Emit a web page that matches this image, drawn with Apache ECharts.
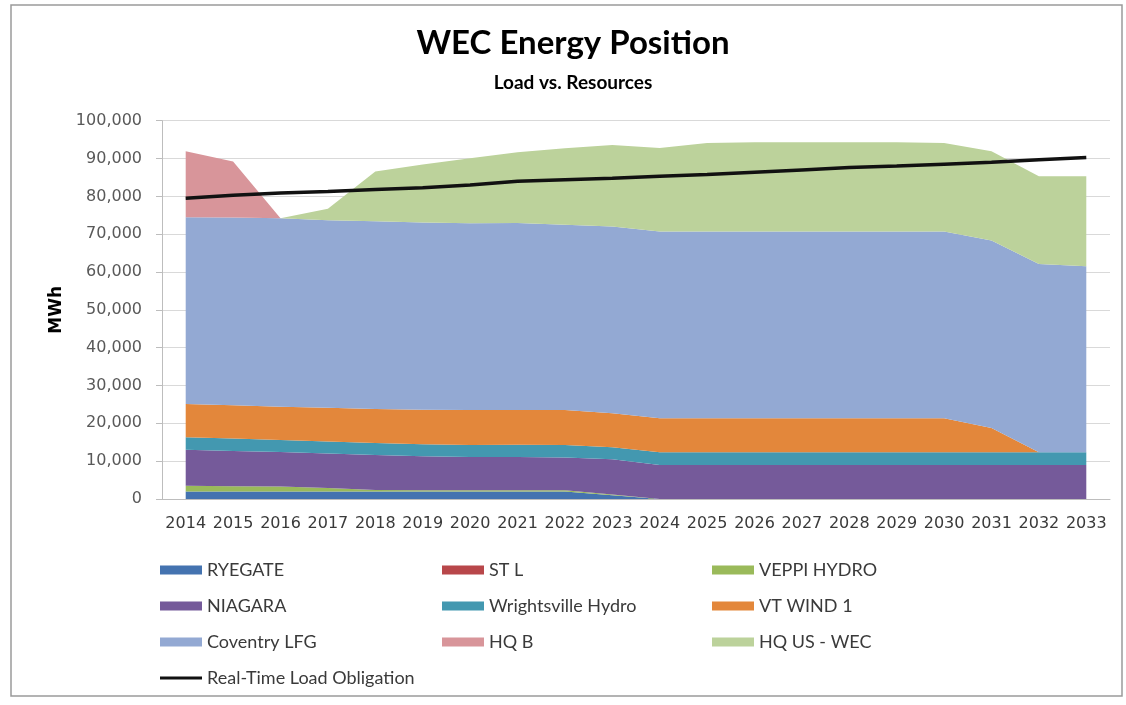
<!DOCTYPE html>
<html>
<head>
<meta charset="utf-8">
<script src="https://cdn.jsdelivr.net/npm/echarts@6/dist/echarts.min.js"></script>
<style>html,body{margin:0;padding:0;background:#fff}#c{width:1126px;height:705px}</style>
</head>
<body>
<div id="c"></div>
<script>
const years = ['2014','2015','2016','2017','2018','2019','2020','2021','2022','2023','2024','2025','2026','2027','2028','2029','2030','2031','2032','2033'];
const ryegate  = [2000,2000,2000,2000,2000,2000,2000,2000,2000,1000,0,0,0,0,0,0,0,0,0,0];
const stL      = [0,0,0,0,0,0,0,0,0,0,0,0,0,0,0,0,0,0,0,0];
const veppi    = [1500,1400,1300,900,400,300,300,300,300,200,0,0,0,0,0,0,0,0,0,0];
const niagara  = [9500,9300,9100,9100,9200,9000,8800,8800,8700,9300,9000,9000,9000,9000,9000,9000,9000,9000,9000,9000];
const wright   = [3300,3300,3200,3200,3200,3200,3200,3250,3300,3200,3350,3350,3350,3350,3350,3350,3350,3350,3350,3350];
const vtWind   = [8800,8800,8800,8900,9000,9100,9200,9200,9200,9000,9000,9000,9000,9000,9000,9000,9000,6450,0,0];
const coventry = [49400,49600,49800,49600,49600,49500,49400,49400,49000,49300,49350,49350,49350,49350,49350,49350,49350,49500,49750,49150];
const hqB      = [17400,14800,0,0,0,0,0,0,0,0,0,0,0,0,0,0,0,0,0,0];
const hqUS     = [0,0,0,3000,13200,15300,17200,18700,20200,21600,22100,23400,23600,23600,23600,23600,23400,23600,23200,23800];
const loadObl  = [79500,80300,80900,81300,81800,82300,83000,84000,84400,84800,85300,85800,86400,87000,87600,88000,88500,89000,89700,90300];

const areaDefs = [
  ['RYEGATE', ryegate, '#4473b0'],
  ['ST L', stL, '#b8474a'],
  ['VEPPI HYDRO', veppi, '#9aba5a'],
  ['NIAGARA', niagara, '#755a9a'],
  ['Wrightsville Hydro', wright, '#4398b0'],
  ['VT WIND 1', vtWind, '#e3873b'],
  ['Coventry LFG', coventry, '#93a9d3'],
  ['HQ B', hqB, '#d8959a'],
  ['HQ US - WEC', hqUS, '#bcd29b']
];

const series = areaDefs.map(d => ({
  name: d[0], type: 'line', stack: 'total', data: d[1], color: d[2],
  symbol: 'none', lineStyle: {width: 0}, areaStyle: {color: d[2], opacity: 1},
  itemStyle: {color: d[2]}
}));
series.push({
  name: 'Real-Time Load Obligation', type: 'line', data: loadObl, color: '#111',
  symbol: 'none', lineStyle: {width: 3.5, color: '#111'}, z: 5
});

const legendText = {fontFamily: 'Lato', fontSize: 18, color: '#3a3a3a', lineHeight: 20};
const lineIcon = 'path://M0,0 L42,0 L42,3.2 L0,3.2 Z';
function mkLegend(left, names) {
  return {
    orient: 'vertical', left: left, top: 560, padding: 0, itemGap: 16,
    itemWidth: 42, itemHeight: 9, icon: 'rect', textStyle: legendText,
    data: names.map(n => n === 'Real-Time Load Obligation' ? {name: n, icon: lineIcon} : {name: n}),
    selectedMode: false
  };
}

const chart = echarts.init(document.getElementById('c'), null, {renderer: 'canvas'});
chart.setOption({
  backgroundColor: '#fff',
  animation: false,
  title: [
    {text: 'WEC Energy Position', left: 573, top: 27, textAlign: 'center', padding: 0,
     textStyle: {fontFamily: 'Lato', fontWeight: 'bold', fontSize: 33, color: '#000'}},
    {text: 'Load vs. Resources', left: 573, top: 73, textAlign: 'center', padding: 0,
     textStyle: {fontFamily: 'Lato', fontWeight: 'bold', fontSize: 19, color: '#000'}}
  ],
  graphic: [{
    type: 'rect', shape: {x: 11, y: 5, width: 1111, height: 691},
    style: {fill: 'none', stroke: '#9a9a9a', lineWidth: 1.5}, silent: true, z: -1
  }],
  legend: [
    mkLegend(160, ['RYEGATE', 'NIAGARA', 'Coventry LFG', 'Real-Time Load Obligation']),
    mkLegend(442, ['ST L', 'Wrightsville Hydro', 'HQ B']),
    mkLegend(712, ['VEPPI HYDRO', 'VT WIND 1', 'HQ US - WEC'])
  ],
  grid: {left: 162, right: 16, top: 120.7, bottom: 206, containLabel: false},
  xAxis: {
    type: 'category', data: years, boundaryGap: true,
    axisLine: {lineStyle: {color: '#bdbdbd', width: 1}},
    axisTick: {length: 5, lineStyle: {color: '#bdbdbd'}},
    axisLabel: {fontFamily: 'DejaVu Sans', fontSize: 16, color: '#3a3a3a', margin: 17, interval: 0}
  },
  yAxis: {
    type: 'value', min: 0, max: 100000, interval: 10000,
    name: 'MWh', nameLocation: 'middle', nameGap: 96, nameRotate: 90,
    nameTextStyle: {fontFamily: 'DejaVu Sans', fontWeight: 'bold', fontSize: 17, color: '#000'},
    axisLine: {show: true, lineStyle: {color: '#bdbdbd'}},
    axisTick: {show: true, length: 6, lineStyle: {color: '#bdbdbd'}},
    splitLine: {lineStyle: {color: '#d9d9d9', width: 1}},
    axisLabel: {fontFamily: 'DejaVu Sans', fontSize: 16, color: '#595959', margin: 20}
  },
  series: series
});
</script>
</body>
</html>
